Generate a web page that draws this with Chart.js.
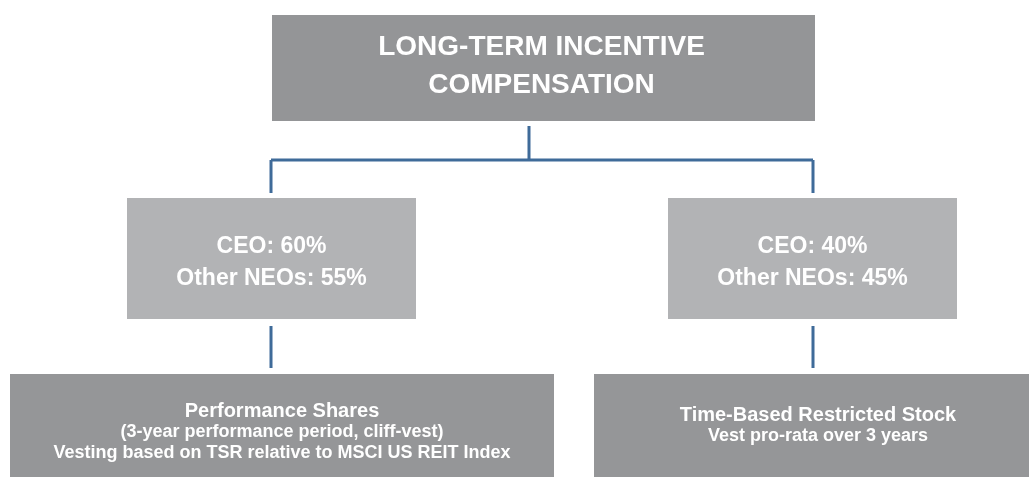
<!DOCTYPE html>
<html>
<head>
<meta charset="utf-8">
<script src="https://cdn.jsdelivr.net/npm/chart.js@4"></script>
<style>
  html, body { margin: 0; padding: 0; background: #ffffff; }
  canvas { display: block; }
</style>
</head>
<body>
<canvas id="ltiChart" width="1029" height="477"></canvas>
<script>
// chart content
const topLabel = ['LONG-TERM INCENTIVE', 'COMPENSATION'];
const ceoShare = [60, 40];
const otherNeoShare = [55, 45];
const awardTypes = ['Performance Shares', 'Time-Based Restricted Stock'];
const awardDetails = [
    ['(3-year performance period, cliff-vest)', 'Vesting based on TSR relative to MSCI US REIT Index'],
    ['Vest pro-rata over 3 years']
];

// layout in canvas units (used through the chart's scales)
const topBox = { x0: 272, x1: 815, y0: 15, y1: 121 };
const midBoxes = [{ x0: 127, x1: 416 }, { x0: 668, x1: 957 }];
const midY = [198, 319];
const lowBoxes = [{ x0: 10, x1: 554 }, { x0: 594, x1: 1045 }];
const lowY = [374, 490];
const branchX = [271, 813];
const trunkX = 529;
const busY = 160;

const lineColor = '#3f6b99';

// connector segments built from the layout
const segments = [
    [[trunkX, 126], [trunkX, busY]],
    [[branchX[0], busY], [branchX[1], busY]],
];
branchX.forEach(x => {
    segments.push([[x, busY], [x, 193]]);
    segments.push([[x, 326], [x, 368]]);
});

const datasets = segments.map(seg => ({
    data: seg.map(p => ({ x: p[0], y: p[1] })),
    showLine: true,
    borderColor: lineColor,
    borderWidth: 3,
    pointRadius: 0,
    borderCapStyle: 'butt',
}));

function rect(ctx, xs, ys, box, y0, y1, color) {
    const left = xs.getPixelForValue(box.x0);
    const right = xs.getPixelForValue(box.x1);
    const top = ys.getPixelForValue(y0);
    const bottom = ys.getPixelForValue(y1);
    ctx.fillStyle = color;
    ctx.fillRect(left, top, right - left, bottom - top);
}

function text(ctx, xs, ys, str, x, y, font) {
    ctx.font = font;
    ctx.fillText(str, xs.getPixelForValue(x), ys.getPixelForValue(y));
}

const orgPlugin = {
    id: 'orgBoxes',
    beforeDatasetsDraw(chart) {
        const ctx = chart.ctx;
        const xs = chart.scales.x;
        const ys = chart.scales.y;
        ctx.save();
        rect(ctx, xs, ys, topBox, topBox.y0, topBox.y1, '#949597');
        midBoxes.forEach(b => rect(ctx, xs, ys, b, midY[0], midY[1], '#b2b3b5'));
        lowBoxes.forEach(b => rect(ctx, xs, ys, b, lowY[0], lowY[1], '#959698'));

        ctx.fillStyle = '#ffffff';
        ctx.textAlign = 'center';
        ctx.textBaseline = 'alphabetic';
        const topMid = (topBox.x0 + topBox.x1) / 2 - 2;
        text(ctx, xs, ys, topLabel[0], topMid, 55, 'bold 28px "Liberation Sans", Arial, sans-serif');
        text(ctx, xs, ys, topLabel[1], topMid, 93, 'bold 28px "Liberation Sans", Arial, sans-serif');

        midBoxes.forEach((b, i) => {
            const cx = (b.x0 + b.x1) / 2;
            ctx.fillStyle = '#ffffff';
            text(ctx, xs, ys, 'CEO: ' + ceoShare[i] + '%', cx, 253, 'bold 23px "Liberation Sans", Arial, sans-serif');
            text(ctx, xs, ys, 'Other NEOs: ' + otherNeoShare[i] + '%', cx, 285, 'bold 23px "Liberation Sans", Arial, sans-serif');
        });

        const narrow = '"Liberation Sans Narrow", "Arial Narrow", "Liberation Sans", sans-serif';
        lowBoxes.forEach((b, i) => {
            const cx = branchX[i] + (i === 0 ? 11 : 5);
            const lines = awardDetails[i];
            const startY = i === 0 ? 417 : 421;
            ctx.fillStyle = '#ffffff';
            text(ctx, xs, ys, awardTypes[i], cx, startY, 'bold 20px ' + narrow);
            lines.forEach((l, j) => {
                text(ctx, xs, ys, l, cx, startY + 20 + j * 21, 'bold 18px ' + narrow);
            });
        });
        ctx.restore();
    }
};

new Chart(document.getElementById('ltiChart').getContext('2d'), {
    type: 'scatter',
    data: { datasets: datasets },
    options: {
        responsive: false,
        animation: false,
        devicePixelRatio: 1,
        layout: { padding: 0 },
        scales: {
            x: { type: 'linear', min: 0, max: 1029, display: false },
            y: { type: 'linear', min: 0, max: 477, reverse: true, display: false },
        },
        plugins: {
            legend: { display: false },
            tooltip: { enabled: false },
        },
    },
    plugins: [orgPlugin],
});
</script>
</body>
</html>
